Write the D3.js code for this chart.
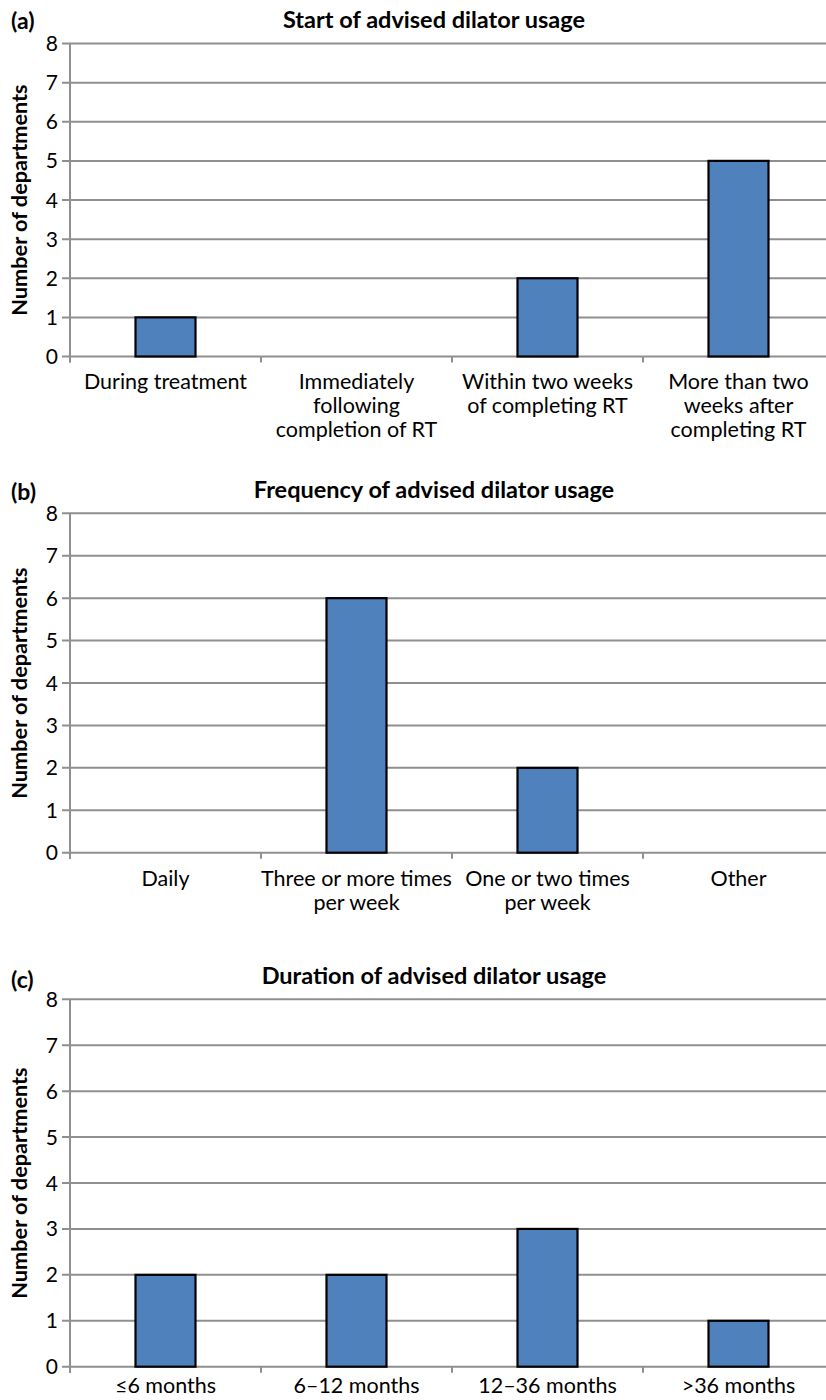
<!DOCTYPE html>
<html>
<head>
<meta charset="utf-8">
<script src="https://cdn.jsdelivr.net/npm/d3@7"></script>
<style>
  body { margin: 0; background: #fff; }
  svg { display: block; font-family: Lato, "Open Sans", sans-serif; }
</style>
</head>
<body>
<svg id="chart" width="826" height="1400"></svg>
<script>
// ---- Data ----
const yTicks = [0, 1, 2, 3, 4, 5, 6, 7, 8];

const startCategories = [
  ["During treatment"],
  ["Immediately", "following", "completion of RT"],
  ["Within two weeks", "of completing RT"],
  ["More than two", "weeks after", "completing RT"]
];
const startValues = [1, 0, 2, 5];

const frequencyCategories = [
  ["Daily"],
  ["Three or more times", "per week"],
  ["One or two times", "per week"],
  ["Other"]
];
const frequencyValues = [0, 6, 2, 0];

const durationCategories = [
  ["≤6 months"],
  ["6–12 months"],
  ["12–36 months"],
  [">36 months"]
];
const durationValues = [2, 2, 3, 1];

const panelLabels = ["(a)", "(b)", "(c)"];
const panelTitles = [
  "Start of advised dilator usage",
  "Frequency of advised dilator usage",
  "Duration of advised dilator usage"
];
const yAxisTitle = "Number of departments";

// ---- Layout ----
const panels = [
  { cats: startCategories, vals: startValues, top: 43.5, bottom: 356.5, titleY: 28, labelY: 29, labelOff: 32 },
  { cats: frequencyCategories, vals: frequencyValues, top: 513.3, bottom: 852.7, titleY: 498, labelY: 500, labelOff: 33 },
  { cats: durationCategories, vals: durationValues, top: 999.3, bottom: 1366.7, titleY: 984, labelY: 988, labelOff: 26.5 }
];

const svg = d3.select("#chart");
const xLeft = 70, xRight = 834;
const gridColor = "#8f8f8f";

panels.forEach((p, i) => {
  const g = svg.append("g");
  const x = d3.scaleBand().domain(d3.range(p.cats.length)).range([xLeft, xRight]).paddingInner(0).paddingOuter(0);
  const y = d3.scaleLinear().domain([0, 8]).range([p.bottom, p.top]);

  g.selectAll("line.grid").data(yTicks).join("line")
    .attr("x1", xLeft - 8).attr("x2", xRight)
    .attr("y1", d => y(d)).attr("y2", d => y(d))
    .attr("stroke", gridColor).attr("stroke-width", 2);

  g.append("line")
    .attr("x1", xLeft).attr("x2", xLeft)
    .attr("y1", y(8)).attr("y2", y(0) + 6)
    .attr("stroke", gridColor).attr("stroke-width", 2);

  const boundaries = d3.range(p.cats.length).map(d => x(d));
  g.selectAll("line.xt").data(boundaries).join("line")
    .attr("x1", d => d).attr("x2", d => d)
    .attr("y1", y(0)).attr("y2", y(0) + 6)
    .attr("stroke", gridColor).attr("stroke-width", 2);

  g.selectAll("text.yt").data(yTicks).join("text")
    .attr("x", 58).attr("y", d => y(d))
    .attr("dy", "0.36em")
    .attr("text-anchor", "end")
    .attr("font-size", 21)
    .attr("fill", "#000")
    .text(d => d);

  const barW = 60;
  g.selectAll("rect.bar").data(p.vals.map((v, k) => ({ v, k })).filter(d => d.v > 0)).join("rect")
    .attr("x", d => x(d.k) + x.bandwidth() / 2 - barW / 2)
    .attr("width", barW)
    .attr("y", d => y(d.v))
    .attr("height", d => y(0) - y(d.v))
    .attr("fill", "#4f81bd")
    .attr("stroke", "#000").attr("stroke-width", 2.2);

  p.cats.forEach((lines, k) => {
    const t = g.append("text")
      .attr("text-anchor", "middle")
      .attr("font-size", 21.5)
      .attr("fill", "#000");
    lines.forEach((ln, j) => {
      t.append("tspan")
        .attr("x", x(k) + x.bandwidth() / 2)
        .attr("y", p.bottom + p.labelOff + j * 24)
        .text(ln);
    });
  });

  g.append("text")
    .attr("x", 434).attr("y", p.titleY)
    .attr("text-anchor", "middle")
    .attr("font-size", 23.5).attr("font-weight", "bold")
    .text(panelTitles[i]);

  g.append("text")
    .attr("x", 11).attr("y", p.labelY)
    .attr("font-size", 23).attr("font-weight", "bold")
    .text(panelLabels[i]);

  const cy = (p.top + p.bottom) / 2;
  g.append("text")
    .attr("transform", `translate(27,${cy}) rotate(-90)`)
    .attr("text-anchor", "middle")
    .attr("font-size", 21.7).attr("font-weight", "bold")
    .text(yAxisTitle);
});
</script>
</body>
</html>
